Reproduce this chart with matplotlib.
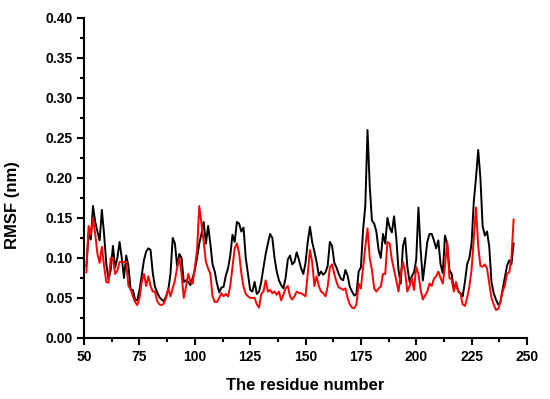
import numpy as np
import matplotlib
matplotlib.use("Agg")
import matplotlib.pyplot as plt
from matplotlib.ticker import MultipleLocator

# residue numbers 51..244
residues = np.arange(51, 245)

rmsf_black = [
    0.090, 0.130, 0.123, 0.165, 0.145, 0.133, 0.122, 0.160, 0.130, 0.093,  # 51-60
    0.073, 0.085, 0.115, 0.088, 0.100, 0.120, 0.100, 0.075, 0.103, 0.090,  # 61-70
    0.060, 0.060, 0.048, 0.047, 0.060, 0.078, 0.097, 0.108, 0.112, 0.110,  # 71-80
    0.081, 0.064, 0.057, 0.051, 0.048, 0.046, 0.052, 0.060, 0.080, 0.125,  # 81-90
    0.118, 0.090, 0.105, 0.100, 0.070, 0.072, 0.070, 0.066, 0.075, 0.085,  # 91-100
    0.100, 0.118, 0.130, 0.145, 0.118, 0.140, 0.118, 0.092, 0.083, 0.068,  # 101-110
    0.057, 0.063, 0.064, 0.078, 0.087, 0.103, 0.129, 0.120, 0.145, 0.143,  # 111-120
    0.133, 0.138, 0.100, 0.080, 0.060, 0.058, 0.070, 0.055, 0.058, 0.070,  # 121-130
    0.088, 0.105, 0.118, 0.130, 0.125, 0.100, 0.083, 0.072, 0.066, 0.062,  # 131-140
    0.075, 0.098, 0.103, 0.092, 0.095, 0.107, 0.098, 0.087, 0.080, 0.094,  # 141-150
    0.120, 0.139, 0.120, 0.108, 0.095, 0.078, 0.083, 0.079, 0.082, 0.090,  # 151-160
    0.120, 0.115, 0.094, 0.088, 0.080, 0.074, 0.072, 0.085, 0.078, 0.064,  # 161-170
    0.058, 0.053, 0.055, 0.083, 0.088, 0.135, 0.165, 0.260, 0.190, 0.147,  # 171-180
    0.143, 0.133, 0.110, 0.100, 0.130, 0.118, 0.150, 0.138, 0.132, 0.152,  # 181-190
    0.125, 0.085, 0.068, 0.115, 0.125, 0.089, 0.070, 0.077, 0.082, 0.098,  # 191-200
    0.163, 0.110, 0.072, 0.095, 0.120, 0.130, 0.130, 0.122, 0.112, 0.122,  # 201-210
    0.092, 0.081, 0.128, 0.118, 0.085, 0.080, 0.062, 0.068, 0.058, 0.056,  # 211-220
    0.052, 0.070, 0.092, 0.100, 0.118, 0.170, 0.200, 0.235, 0.200, 0.140,  # 221-230
    0.128, 0.133, 0.114, 0.070, 0.056, 0.048, 0.042, 0.044, 0.060, 0.075,  # 231-240
    0.090, 0.097, 0.092, 0.118,                                            # 241-244
]

rmsf_red = [
    0.082, 0.140, 0.129, 0.150, 0.130, 0.105, 0.094, 0.114, 0.090, 0.070,  # 51-60
    0.069, 0.100, 0.100, 0.080, 0.084, 0.095, 0.095, 0.095, 0.095, 0.065,  # 61-70
    0.061, 0.052, 0.045, 0.041, 0.050, 0.070, 0.080, 0.065, 0.077, 0.065,  # 71-80
    0.058, 0.058, 0.046, 0.042, 0.041, 0.043, 0.050, 0.062, 0.052, 0.062,  # 81-90
    0.072, 0.088, 0.100, 0.080, 0.050, 0.064, 0.080, 0.070, 0.068, 0.088,  # 91-100
    0.110, 0.165, 0.143, 0.120, 0.095, 0.087, 0.080, 0.052, 0.045, 0.045,  # 101-110
    0.050, 0.056, 0.052, 0.055, 0.052, 0.065, 0.089, 0.112, 0.118, 0.106,  # 111-120
    0.081, 0.064, 0.055, 0.052, 0.050, 0.050, 0.050, 0.042, 0.038, 0.055,  # 121-130
    0.058, 0.072, 0.058, 0.060, 0.056, 0.058, 0.054, 0.058, 0.047, 0.054,  # 131-140
    0.062, 0.065, 0.052, 0.048, 0.052, 0.058, 0.056, 0.056, 0.054, 0.052,  # 141-150
    0.080, 0.110, 0.095, 0.065, 0.077, 0.065, 0.058, 0.056, 0.052, 0.064,  # 151-160
    0.088, 0.092, 0.080, 0.070, 0.063, 0.062, 0.060, 0.062, 0.050, 0.042,  # 161-170
    0.038, 0.037, 0.042, 0.068, 0.062, 0.088, 0.114, 0.137, 0.100, 0.085,  # 171-180
    0.062, 0.058, 0.062, 0.064, 0.080, 0.080, 0.120, 0.118, 0.098, 0.085,  # 181-190
    0.072, 0.058, 0.080, 0.095, 0.082, 0.058, 0.065, 0.075, 0.060, 0.089,  # 191-200
    0.080, 0.060, 0.048, 0.053, 0.058, 0.068, 0.065, 0.074, 0.077, 0.083,  # 201-210
    0.075, 0.068, 0.090, 0.120, 0.075, 0.073, 0.058, 0.070, 0.058, 0.055,  # 211-220
    0.042, 0.040, 0.050, 0.064, 0.085, 0.125, 0.163, 0.115, 0.090, 0.089,  # 221-230
    0.092, 0.087, 0.068, 0.050, 0.042, 0.035, 0.036, 0.045, 0.058, 0.065,  # 231-240
    0.080, 0.082, 0.100, 0.148,                                            # 241-244
]

plt.rcParams["font.family"] = ["Liberation Sans", "DejaVu Sans"]
plt.rcParams["font.weight"] = "bold"

fig = plt.figure(figsize=(5.5, 3.99), dpi=100)
ax = fig.add_axes([0.153, 0.153, 0.805, 0.802])

ax.plot(residues, rmsf_black, color="black", lw=1.4)
ax.plot(residues, rmsf_red, color="red", lw=1.4)

ax.set_xlim(50, 250)
ax.set_ylim(0, 0.40)
ax.xaxis.set_major_locator(MultipleLocator(25))
ax.xaxis.set_minor_locator(MultipleLocator(12.5))
ax.yaxis.set_major_locator(MultipleLocator(0.05))
ax.yaxis.set_minor_locator(MultipleLocator(0.025))
ax.yaxis.set_major_formatter(plt.FormatStrFormatter("%.2f"))

for side in ("top", "right"):
    ax.spines[side].set_visible(False)
for side in ("left", "bottom"):
    ax.spines[side].set_linewidth(1.5)

ax.tick_params(which="major", direction="out", length=5, width=1.5, labelsize=10)
ax.tick_params(which="minor", direction="out", length=3, width=1.5)
for lab in ax.get_xticklabels() + ax.get_yticklabels():
    lab.set_fontweight("bold")

ax.set_xlabel("The residue number", fontsize=12, fontweight="bold")
ax.set_ylabel("RMSF (nm)", fontsize=12, fontweight="bold")
ax.xaxis.set_label_coords(0.5, -0.125)
ax.yaxis.set_label_coords(-0.145, 0.415)

fig.savefig("out.png", dpi=100)
